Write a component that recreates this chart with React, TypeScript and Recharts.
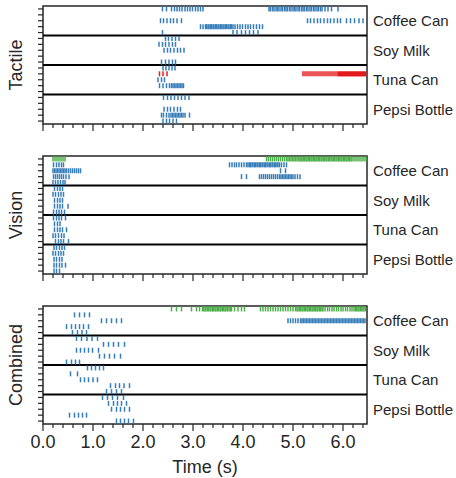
import { ScatterChart, Scatter, XAxis, YAxis, ReferenceLine, ReferenceArea } from "recharts";

const objects = ["Coffee Can", "Soy Milk", "Tuna Can", "Pepsi Bottle"];
const majorTicks = [0, 1, 2, 3, 4, 5, 6];
const minorTicks = Array.from({ length: 33 }, (_, i) => +(i * 0.2).toFixed(1));
const rowTicks = Array.from({ length: 20 }, (_, i) => i);
const labelRows = [2, 7, 12, 17];

const BLUE = "#377eb8";
const GREEN = "#4daf4a";
const RED = "#e41a1c";
const INK = "#262626";

// ---- Tactile (rows inside each object, top to bottom) ----
const tactileCoffee = [
  [2.39, 2.47, 2.57, 2.63, 2.68, 2.73, 2.78, 2.84, 2.89, 2.94, 2.99, 3.05, 3.1, 3.15, 3.2,
    4.52, 4.55, 4.59, 4.62, 4.66, 4.69, 4.72, 4.76, 4.79, 4.83, 4.86, 4.89, 4.93, 4.96, 5.0, 5.03, 5.06,
    5.1, 5.13, 5.17, 5.2, 5.23, 5.27, 5.3, 5.34, 5.37, 5.41, 5.44, 5.48, 5.51, 5.55, 5.58, 5.64, 5.7, 5.77, 5.9],
  [],
  [2.35, 2.41, 2.48, 2.55, 2.61, 2.68, 2.77, 5.29, 5.35, 5.42, 5.49, 5.55, 5.62, 5.69, 5.75, 5.82, 5.89,
    5.95, 6.07, 6.15, 6.23, 6.32, 6.4],
  [3.15, 3.2, 3.25, 3.27, 3.3, 3.32, 3.35, 3.37, 3.4, 3.42, 3.45, 3.47, 3.5, 3.52, 3.55, 3.57, 3.6, 3.62,
    3.65, 3.67, 3.7, 3.72, 3.75, 3.77, 3.8, 3.84, 3.89, 3.94, 3.99, 4.05, 4.1, 4.15, 4.21, 4.27, 4.33, 4.39],
  [2.39, 3.8, 3.88, 3.97, 4.05, 4.13, 4.21, 4.3],
];
const tactileSoy = [
  [2.45, 2.51, 2.58, 2.65, 2.72],
  [2.32, 2.39, 2.45, 2.52, 2.59, 2.65],
  [2.42, 2.49, 2.55, 2.62, 2.69, 2.75, 2.82],
  [],
  [2.37, 2.45, 2.52, 2.59, 2.65],
];
const tactileTuna = [
  [2.4, 2.46, 2.52, 2.58, 2.64],
  [],
  [2.3, 2.37, 2.43],
  [2.33, 2.4, 2.47, 2.53, 2.57, 2.6, 2.63, 2.66, 2.69, 2.72, 2.75, 2.78, 2.81],
  [],
];
const tactileTunaRed = [
  [],
  [2.33, 2.4, 2.48, 5.2, 5.24, 5.28, 5.32, 5.36, 5.4, 5.44, 5.48, 5.52, 5.56, 5.6, 5.64, 5.68, 5.72, 5.76,
    5.8, 5.84, 5.88, 5.91, 5.93, 5.95, 5.97, 5.99, 6.01, 6.03, 6.05, 6.07, 6.09, 6.11, 6.13, 6.15, 6.17,
    6.19, 6.21, 6.23, 6.25, 6.27, 6.29, 6.31, 6.33, 6.35, 6.37, 6.39, 6.41, 6.43, 6.45],
  [],
  [],
  [],
];
const tactilePepsi = [
  [2.41, 2.49, 2.56, 2.63, 2.7, 2.77, 2.84, 2.92],
  [],
  [2.42, 2.49, 2.55, 2.62, 2.69, 2.75],
  [2.37, 2.41, 2.47, 2.52, 2.56, 2.59, 2.62, 2.65, 2.68, 2.71, 2.74, 2.77, 2.8, 2.84, 2.93],
  [2.4, 2.47, 2.53, 2.6, 2.67],
];

// ---- Vision ----
const visionCoffee = [
  [],
  [0.21, 0.27, 0.32, 0.37, 0.41, 3.73, 3.78, 3.83, 3.87, 3.92, 3.97, 4.02, 4.07, 4.1, 4.13, 4.15, 4.18,
    4.2, 4.23, 4.25, 4.28, 4.3, 4.33, 4.35, 4.38, 4.4, 4.43, 4.45, 4.48, 4.5, 4.53, 4.55, 4.58, 4.6, 4.63,
    4.65, 4.68, 4.7, 4.73, 4.77, 4.82, 4.87],
  [0.2, 0.23, 0.26, 0.29, 0.32, 0.35, 0.38, 0.41, 0.44, 0.47, 0.51, 0.55, 0.59, 0.63, 0.67, 0.71, 0.75, 4.75, 4.85],
  [0.21, 0.25, 0.29, 0.33, 0.37, 0.41, 0.46, 0.52, 3.97, 4.07, 4.33, 4.37, 4.41, 4.45, 4.49, 4.53, 4.57,
    4.61, 4.65, 4.69, 4.73, 4.76, 4.79, 4.82, 4.85, 4.88, 4.91, 4.94, 4.97, 5.0, 5.04, 5.09, 5.14],
  [0.2, 0.25, 0.3, 0.35, 0.4, 0.44],
];
const visionCoffeeGreen = [
  [0.2, 0.24, 0.28, 0.32, 0.36, 0.4, 0.44,
    4.47, 4.51, 4.55, 4.59, 4.63, 4.67, 4.71, 4.75, 4.79, 4.83, 4.87, 4.9, 4.93, 4.96, 4.99, 5.02, 5.05,
    5.08, 5.11, 5.14, 5.16, 5.18, 5.21, 5.23, 5.26, 5.28, 5.31, 5.33, 5.36, 5.38, 5.41, 5.43, 5.46, 5.48,
    5.51, 5.53, 5.56, 5.58, 5.61, 5.63, 5.66, 5.68, 5.71, 5.73, 5.76, 5.78, 5.81, 5.83, 5.86, 5.88, 5.91,
    5.93, 5.96, 5.98, 6.01, 6.03, 6.06, 6.08, 6.11, 6.13, 6.16, 6.18, 6.22, 6.26, 6.3, 6.34, 6.38, 6.42, 6.46],
  [],
  [],
  [],
  [],
];
const visionSoy = [
  [0.23, 0.29, 0.34, 0.39],
  [0.2, 0.25, 0.31, 0.36, 0.41],
  [0.23, 0.29, 0.34, 0.39],
  [0.23, 0.29, 0.34, 0.39, 0.5],
  [0.21, 0.27, 0.32, 0.37, 0.43],
];
const visionTuna = [
  [0.21, 0.27, 0.32, 0.37, 0.45],
  [0.23, 0.29, 0.34],
  [0.23, 0.29, 0.34, 0.39, 0.47],
  [0.2, 0.25, 0.31, 0.37, 0.42],
  [0.25, 0.31, 0.36, 0.41, 0.51],
];
const visionPepsi = [
  [0.22, 0.27, 0.33, 0.38, 0.43],
  [0.2, 0.25, 0.31, 0.36, 0.41],
  [0.22, 0.27, 0.33, 0.38],
  [0.22, 0.27, 0.33, 0.38, 0.45],
  [0.22, 0.27, 0.33],
];

// ---- Combined ----
const combinedCoffee = [
  [],
  [0.63, 0.73, 0.83, 0.93],
  [1.17, 1.27, 1.37, 1.47, 1.57, 4.9, 4.95, 5.0, 5.05, 5.1, 5.15, 5.18, 5.21, 5.24, 5.27, 5.3, 5.33, 5.36,
    5.39, 5.42, 5.45, 5.48, 5.51, 5.54, 5.57, 5.6, 5.63, 5.66, 5.69, 5.72, 5.75, 5.78, 5.81, 5.84, 5.87,
    5.9, 5.93, 5.96, 5.99, 6.02, 6.05, 6.08, 6.11, 6.14, 6.17, 6.2, 6.23, 6.26, 6.29, 6.32, 6.35, 6.38,
    6.41, 6.44],
  [0.47, 0.57, 0.65, 0.73, 0.81, 0.91],
  [0.59, 0.69, 0.78, 0.87],
];
const combinedCoffeeGreen = [
  [2.57, 2.67, 2.77, 2.97, 3.07, 3.13, 3.19, 3.21, 3.24, 3.26, 3.29, 3.31, 3.34, 3.36, 3.39, 3.41, 3.44,
    3.46, 3.49, 3.51, 3.54, 3.56, 3.59, 3.61, 3.64, 3.66, 3.69, 3.72, 3.75, 3.77, 3.83, 3.9, 3.97, 4.03,
    4.35, 4.4, 4.45, 4.5, 4.55, 4.6, 4.65, 4.7, 4.75, 4.8, 4.85, 4.9, 4.95, 5.0, 5.05, 5.08, 5.1, 5.13,
    5.15, 5.18, 5.2, 5.23, 5.25, 5.28, 5.3, 5.33, 5.35, 5.38, 5.4, 5.43, 5.45, 5.48, 5.5, 5.53, 5.55, 5.58,
    5.6, 5.64, 5.69, 5.73, 5.78, 5.82, 5.87, 5.91, 5.96, 6.0, 6.05, 6.09, 6.14, 6.18, 6.22, 6.25, 6.27,
    6.3, 6.32, 6.35, 6.37, 6.4, 6.42, 6.45],
  [],
  [],
  [],
  [],
];
const combinedSoy = [
  [0.67, 0.77, 0.88, 0.98, 1.09],
  [1.21, 1.31, 1.41, 1.51, 1.63],
  [0.67, 0.75, 0.83, 0.91, 0.99, 1.11],
  [1.13, 1.23, 1.33, 1.43, 1.55],
  [0.47, 0.57, 0.65, 0.73],
];
const combinedTuna = [
  [0.89, 0.97, 1.05, 1.13, 1.21],
  [0.55, 0.69],
  [0.75, 0.83, 0.91, 1.0, 1.09],
  [1.35, 1.45, 1.53, 1.62, 1.73],
  [1.27, 1.37, 1.47, 1.57],
];
const combinedPepsi = [
  [1.19, 1.29, 1.39, 1.49, 1.61],
  [1.31, 1.41, 1.49, 1.57, 1.67],
  [1.37, 1.47, 1.55, 1.63, 1.73],
  [0.53, 0.63, 0.71, 0.79, 0.87],
  [1.47, 1.55, 1.63, 1.71, 1.81],
];

type Ev = { t: number; row: number };

function toEvents(groups: number[][][]): Ev[] {
  const out: Ev[] = [];
  groups.forEach((g, gi) =>
    g.forEach((times, ri) => times.forEach((t) => out.push({ t, row: gi * 5 + ri })))
  );
  return out;
}

const none: number[][] = [[], [], [], [], []];
// anchors for the object names on the right axis
const labelAnchors = labelRows.map((row) => ({ t: 0, row }));

const mark = (color: string) => (props: any) => (
  <line x1={props.cx} x2={props.cx} y1={props.cy - 2.5} y2={props.cy + 2.5} stroke={color} strokeWidth={1.5} />
);

function TimeTick(props: any) {
  const { x, y, payload, showLabels } = props;
  const v = payload.value;
  const major = majorTicks.includes(v);
  return (
    <g>
      <line x1={x} x2={x} y1={y} y2={y + (major ? 7 : 4)} stroke={INK} strokeWidth={1.2} />
      {major && showLabels && (
        <text x={x} y={y + 24} textAnchor="middle" fontSize={18} fill={INK}>
          {v.toFixed(1)}
        </text>
      )}
    </g>
  );
}

function RowTick(props: any) {
  const { x, y } = props;
  return <line x1={x - 5} x2={x} y1={y} y2={y} stroke={INK} strokeWidth={1.2} />;
}

const PLOT_H = 118;

function Panel({ top, title, blue, green, red, showLabels }: any) {
  const axisH = showLabels ? 40 : 10;
  return (
    <>
      <div style={{ position: "absolute", left: 0, top: top - 4 }}>
        <ScatterChart width={456} height={PLOT_H + 4 + axisH} margin={{ top: 4, right: 0, bottom: 0, left: 0 }}>
          <XAxis
            type="number"
            dataKey="t"
            domain={[0, 6.48]}
            ticks={minorTicks}
            interval={0}
            tickLine={false}
            axisLine={false}
            tickSize={0}
            tickMargin={0}
            height={axisH}
            tick={(p: any) => <TimeTick {...p} showLabels={showLabels} />}
          />
          <YAxis
            yAxisId="left"
            type="number"
            dataKey="row"
            domain={[-0.5, 19.5]}
            reversed
            ticks={rowTicks}
            interval={0}
            width={43}
            tick={(p: any) => <RowTick {...p} />}
            tickSize={0}
            tickMargin={0}
            tickLine={false}
            axisLine={false}
          />
          <YAxis
            yAxisId="right"
            orientation="right"
            type="number"
            dataKey="row"
            domain={[-0.5, 19.5]}
            reversed
            ticks={labelRows}
            interval={0}
            width={89}
            tickFormatter={(v: number) => objects[Math.round((v - 2) / 5)]}
            tickLine={false}
            axisLine={false}
            tickSize={0}
            tickMargin={6}
            tick={{ fontSize: 15, fill: INK }}
          />
          <Scatter yAxisId="right" data={labelAnchors} shape={() => <g />} isAnimationActive={false} />
          <Scatter yAxisId="left" data={toEvents(blue)} shape={mark(BLUE)} isAnimationActive={false} />
          <Scatter yAxisId="left" data={toEvents(green)} shape={mark(GREEN)} isAnimationActive={false} />
          <Scatter yAxisId="left" data={toEvents(red)} shape={mark(RED)} isAnimationActive={false} />
          {[4.5, 9.5, 14.5].map((y) => (
            <ReferenceLine key={y} yAxisId="left" y={y} stroke="#000" strokeWidth={1.8} />
          ))}
          <ReferenceArea
            yAxisId="left"
            x1={0}
            x2={6.48}
            y1={-0.5}
            y2={19.5}
            fill="none"
            stroke={INK}
            strokeWidth={1.5}
          />
        </ScatterChart>
      </div>
      <div
        style={{
          position: "absolute",
          left: 16,
          top: top + PLOT_H / 2,
          transform: "translate(-50%, -50%) rotate(-90deg)",
          fontSize: 18,
          color: INK,
          whiteSpace: "nowrap",
        }}
      >
        {title}
      </div>
    </>
  );
}

export default function App() {
  return (
    <div
      style={{
        position: "absolute",
        left: 0,
        top: 0,
        width: 456,
        height: 478,
        background: "#fff",
        fontFamily: "'Liberation Sans', Arial, sans-serif",
      }}
    >
      <Panel
        top={6}
        title="Tactile"
        blue={[tactileCoffee, tactileSoy, tactileTuna, tactilePepsi]}
        green={[none, none, none, none]}
        red={[none, none, tactileTunaRed, none]}
      />
      <Panel
        top={156}
        title="Vision"
        blue={[visionCoffee, visionSoy, visionTuna, visionPepsi]}
        green={[visionCoffeeGreen, none, none, none]}
        red={[none, none, none, none]}
      />
      <Panel
        top={306}
        title="Combined"
        showLabels
        blue={[combinedCoffee, combinedSoy, combinedTuna, combinedPepsi]}
        green={[combinedCoffeeGreen, none, none, none]}
        red={[none, none, none, none]}
      />
      <div
        style={{
          position: "absolute",
          left: 205,
          top: 467,
          transform: "translate(-50%, -50%)",
          fontSize: 18,
          color: INK,
          whiteSpace: "nowrap",
        }}
      >
        Time (s)
      </div>
    </div>
  );
}
